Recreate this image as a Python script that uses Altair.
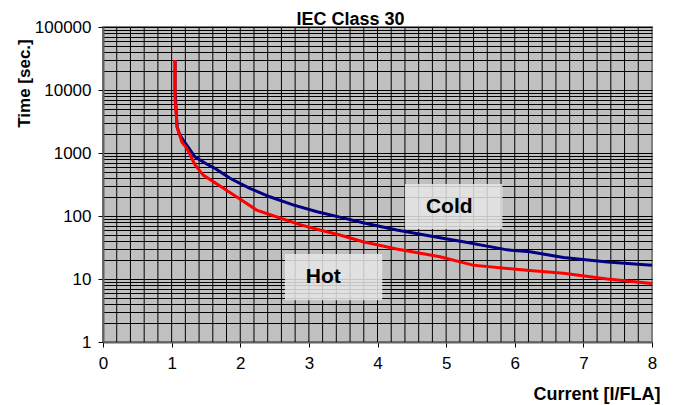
import altair as alt
import pandas as pd

FONT = "Liberation Sans"

# Curves (x = I/FLA, y = seconds)
cold_x = [1.05, 1.05, 1.08, 1.12, 1.20, 1.34, 1.51, 1.63, 1.85, 2.14, 2.43, 2.77, 3.12, 3.45,
          3.79, 4.28, 4.91, 5.25, 5.89, 6.22, 6.71, 7.35, 8.0]
cold_y = [30000, 10000, 2600, 1930, 1430, 870, 668, 571, 397, 275, 202, 150, 117, 96,
          78, 60, 45, 39, 29, 27, 22, 18.6, 16.6]
hot_x = [1.05, 1.05, 1.08, 1.15, 1.22, 1.34, 1.46, 1.75, 1.95, 2.24, 2.58, 2.87, 3.16, 3.45,
         3.79, 4.28, 4.91, 5.39, 5.89, 6.22, 6.71, 7.35, 8.0]
hot_y = [30000, 6900, 2600, 1480, 1200, 650, 446, 278, 200, 124, 93, 73, 60, 50,
         39, 30, 22.5, 16.6, 14.7, 13.7, 12.3, 10, 8.5]

# Axis tick labels and grid values
x_labels = [0, 1, 2, 3, 4, 5, 6, 7, 8]
x_grid = [0.2, 0.4, 0.6, 0.8, 1, 1.2, 1.4, 1.6, 1.8, 2, 2.2, 2.4, 2.6, 2.8, 3, 3.2, 3.4,
          3.6, 3.8, 4, 4.2, 4.4, 4.6, 4.8, 5, 5.2, 5.4, 5.6, 5.8, 6, 6.2, 6.4, 6.6, 6.8, 7,
          7.2, 7.4, 7.6, 7.8]
y_ticks = [1, 2, 3, 4, 5, 6, 7, 8, 9,
           10, 20, 30, 40, 50, 60, 70, 80, 90,
           100, 200, 300, 400, 500, 600, 700, 800, 900,
           1000, 2000, 3000, 4000, 5000, 6000, 7000, 8000, 9000,
           10000, 20000, 30000, 40000, 50000, 60000, 70000, 80000, 90000,
           100000]

# Label boxes
box_label = ["Cold", "Hot"]
box_x1 = [4.40, 2.65]
box_x2 = [5.82, 4.07]
box_y1 = [62, 4.6]
box_y2 = [322, 25]

cold = pd.DataFrame({"x": cold_x, "y": cold_y, "i": range(len(cold_x))})
hot = pd.DataFrame({"x": hot_x, "y": hot_y, "i": range(len(hot_x))})
boxes = pd.DataFrame({"label": box_label, "x1": box_x1, "x2": box_x2, "y1": box_y1, "y2": box_y2})
xgrid_df = pd.DataFrame({"v": x_grid})

xscale = alt.Scale(domain=[0, 8], nice=False, zero=False)
yscale = alt.Scale(type="log", domain=[1, 100000], nice=False)

xaxis = alt.Axis(
    values=x_labels, grid=False, format="d",
    tickSize=5, tickColor="black", tickWidth=1,
    domainColor="#606060", domainWidth=2,
    labelFont=FONT, labelFontSize=17, labelColor="black", labelPadding=8,
    labelFlush=False, labelOverlap=False,
    title="Current [I/FLA]", titleFont=FONT, titleFontSize=18, titleFontWeight="bold",
    titleColor="black", titleX=557, titleY=52, titleAlign="right", titleBaseline="middle",
)
yaxis = alt.Axis(
    values=y_ticks, tickCount=200, grid=True, gridColor="black", gridWidth=1, gridOpacity=1,
    labelExpr="indexof([1,10,100,1000,10000,100000], datum.value) >= 0 ? datum.label : ''",
    format="d",
    tickOpacity={"condition": {"test": "indexof([1,10,100,1000,10000,100000], datum.value) >= 0",
                               "value": 1}, "value": 0},
    tickSize=5, tickColor="black", tickWidth=1,
    domainColor="#606060", domainWidth=2,
    labelFont=FONT, labelFontSize=17, labelColor="black", labelPadding=7,
    labelFlush=False, labelOverlap=False,
    title="Time [sec.]", titleFont=FONT, titleFontSize=17, titleFontWeight="bold",
    titleColor="black", titleX=-79, titleY=56, titleAlign="center", titleBaseline="middle",
)

xgrid = alt.Chart(xgrid_df).mark_rule(color="black", strokeWidth=1).encode(
    x=alt.X("v:Q", scale=xscale, axis=xaxis),
)
cold_line = alt.Chart(cold).mark_line(color="#000080", strokeWidth=3).encode(
    x=alt.X("x:Q", scale=xscale),
    y=alt.Y("y:Q", scale=yscale, axis=yaxis),
    order="i:Q",
)
hot_line = alt.Chart(hot).mark_line(color="#FF0000", strokeWidth=3).encode(
    x=alt.X("x:Q", scale=xscale),
    y=alt.Y("y:Q", scale=yscale),
    order="i:Q",
)
box_rect = alt.Chart(boxes).mark_rect(fill="#E6E6E6", opacity=0.85).encode(
    x=alt.X("x1:Q", scale=xscale), x2="x2:Q",
    y=alt.Y("y1:Q", scale=yscale), y2="y2:Q",
)
box_text = alt.Chart(boxes).transform_calculate(
    ym="sqrt(datum.y1 * datum.y2)"
).mark_text(font=FONT, fontSize=21, fontWeight="bold", color="black",
            align="left", baseline="middle", dx=21).encode(
    x=alt.X("x1:Q", scale=xscale),
    y=alt.Y("ym:Q", scale=yscale),
    text="label:N",
)

chart = alt.layer(xgrid, box_rect, box_text, cold_line, hot_line).properties(
    width=549, height=315,
    background="white",
    autosize=alt.AutoSizeParams(type="none"),
    padding={"left": 103, "top": 27, "right": 28, "bottom": 63},
    title=alt.TitleParams("IEC Class 30", font=FONT, fontSize=18, fontWeight="bold",
                          color="black", anchor="middle", dx=-27, dy=15),
).configure_view(fill="#C0C0C0", stroke="#808080", strokeWidth=2)

chart.save("out.html", embed_options={"renderer": "svg", "actions": False})
